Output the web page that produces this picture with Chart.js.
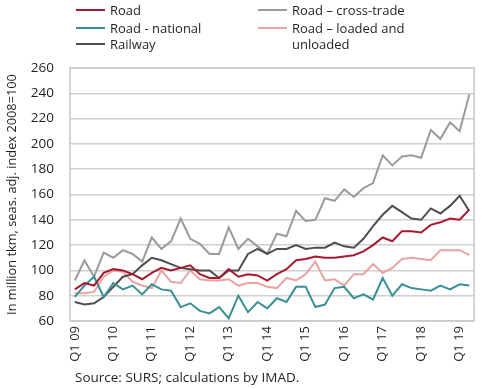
<!DOCTYPE html>
<html>
<head>
<meta charset="utf-8">
<script src="https://cdn.jsdelivr.net/npm/chart.js@4.4.1/dist/chart.umd.min.js"></script>
<style>
body { margin: 0; background: #fff; font-family: "Open Sans", sans-serif; color: #231f20; }
#wrap { position: relative; width: 490px; height: 389px; overflow: hidden; }
#c { position: absolute; left: 0; top: 0; }
.leg { position: absolute; font-size: 13px; line-height: 16px; white-space: nowrap; }
.leg .sw { position: absolute; left: -34px; top: 7px; width: 29px; height: 2px; }
#src { position: absolute; left: 75px; top: 368px; font-size: 13.5px; }
</style>
</head>
<body>
<div id="wrap">
  <canvas id="c" width="490" height="389"></canvas>
  <div id="legend"></div>
  <div id="src">Source: SURS; calculations by IMAD.</div>
</div>
<script>
var quarters = [
    "Q1 09", "Q2 09", "Q3 09", "Q4 09", "Q1 10", "Q2 10", "Q3 10", "Q4 10",
    "Q1 11", "Q2 11", "Q3 11", "Q4 11", "Q1 12", "Q2 12", "Q3 12", "Q4 12",
    "Q1 13", "Q2 13", "Q3 13", "Q4 13", "Q1 14", "Q2 14", "Q3 14", "Q4 14",
    "Q1 15", "Q2 15", "Q3 15", "Q4 15", "Q1 16", "Q2 16", "Q3 16", "Q4 16",
    "Q1 17", "Q2 17", "Q3 17", "Q4 17", "Q1 18", "Q2 18", "Q3 18", "Q4 18",
    "Q1 19", "Q2 19"
];

var road = [85, 90, 88, 98, 101, 100, 97, 93, 98, 102, 100, 102, 104, 97, 94, 94,
    101, 95, 97, 96, 92, 97, 101, 108, 109, 111, 110, 110, 111, 112, 115, 120,
    126, 123, 131, 131, 130, 136, 138, 141, 140, 148];
var roadNational = [79, 88, 95, 79, 90, 85, 88, 81, 89, 85, 84, 71, 74, 68, 66, 71,
    62, 80, 67, 75, 70, 78, 75, 87, 87, 71, 73, 86, 87, 78, 81, 77,
    94, 80, 89, 86, 85, 84, 88, 85, 89, 88];
var railway = [75, 73, 74, 79, 87, 95, 97, 104, 110, 108, 105, 102, 101, 100, 100, 94,
    100, 100, 113, 117, 113, 117, 117, 120, 117, 118, 118, 122, 119, 118, 125, 135,
    144, 151, 146, 141, 140, 149, 145, 151, 159, 147];
var crossTrade = [92, 108, 95, 114, 110, 116, 113, 107, 126, 117, 123, 141, 125, 121, 113, 113,
    134, 117, 125, 119, 113, 129, 127, 147, 139, 140, 157, 155, 164, 158, 165, 169,
    191, 183, 190, 191, 189, 211, 204, 217, 210, 239];
var loadedUnloaded = [82, 82, 83, 95, 100, 99, 91, 88, 86, 100, 91, 90, 100, 93, 92, 92,
    93, 88, 90, 90, 87, 86, 94, 92, 97, 107, 92, 93, 88, 97, 97, 105,
    98, 102, 109, 110, 109, 108, 116, 116, 116, 112];

var yTicks = [60, 80, 100, 120, 140, 160, 180, 200, 220, 240, 260];

var fontFamily = '"Open Sans", sans-serif';
var textColor = '#231f20';

var series = [
    { label: "Road", data: road, color: "#a6192e", legX: 110, legY: 2 },
    { label: "Road - national", data: roadNational, color: "#3b8f96", legX: 110, legY: 20 },
    { label: "Railway", data: railway, color: "#4d4d4d", legX: 110, legY: 36 },
    { label: "Road – cross-trade", data: crossTrade, color: "#9b9b9b", legX: 292, legY: 2 },
    { label: "Road – loaded and<br>unloaded", data: loadedUnloaded, color: "#e9a3a3", legX: 292, legY: 20 }
];

// html legend, two columns like the original
series.forEach(function (s) {
    var item = document.createElement("div");
    item.className = "leg";
    item.style.left = s.legX + "px";
    item.style.top = s.legY + "px";
    item.innerHTML = '<span class="sw" style="background:' + s.color + '"></span>' + s.label;
    document.getElementById("legend").appendChild(item);
});

var framePlugin = {
    id: "frame",
    afterDraw: function (chart) {
        var a = chart.chartArea, ctx = chart.ctx;
        ctx.save();
        ctx.strokeStyle = "#c8c8c8";
        ctx.lineWidth = 1.5;
        ctx.strokeRect(a.left, a.top, a.right - a.left, a.bottom - a.top);
        ctx.restore();
    }
};

var datasets = series.map(function (s, i) {
    return {
        label: s.label,
        data: s.data,
        borderColor: s.color,
        backgroundColor: s.color,
        borderWidth: 2,
        pointRadius: 0,
        tension: 0,
        fill: false,
        order: i
    };
});

var ctx = document.getElementById("c").getContext("2d");
new Chart(ctx, {
    type: "line",
    data: { labels: quarters, datasets: datasets },
    options: {
        responsive: false,
        animation: false,
        layout: { padding: { top: 68, right: 10, left: 0, bottom: 0 } },
        plugins: { legend: { display: false }, tooltip: { enabled: false } },
        scales: {
            x: {
                offset: true,
                grid: { display: false, drawTicks: false },
                border: { display: false },
                ticks: {
                    autoSkip: false, maxRotation: 90, minRotation: 90, padding: 5,
                    color: textColor, font: { size: 13, family: fontFamily },
                    callback: function (v) {
                        var l = this.getLabelForValue(v);
                        return l.indexOf("Q1") === 0 ? l : "";
                    }
                },
                afterFit: function (s) { s.height = 68; }
            },
            y: {
                min: 60, max: 260,
                afterBuildTicks: function (s) {
                    s.ticks = yTicks.map(function (v) { return { value: v }; });
                },
                grid: { color: "#d0d0d0", lineWidth: 1.5, drawTicks: false },
                border: { display: false },
                ticks: { padding: 16, color: textColor, font: { size: 13.5, family: fontFamily } },
                title: {
                    display: true, text: "In million tkm, seas. adj. index 2008=100",
                    color: textColor, font: { size: 12.8, family: fontFamily },
                    padding: { top: 5, bottom: 0 }
                },
                afterFit: function (s) { s.width = 70; }
            }
        }
    },
    plugins: [framePlugin]
});
</script>
</body>
</html>
